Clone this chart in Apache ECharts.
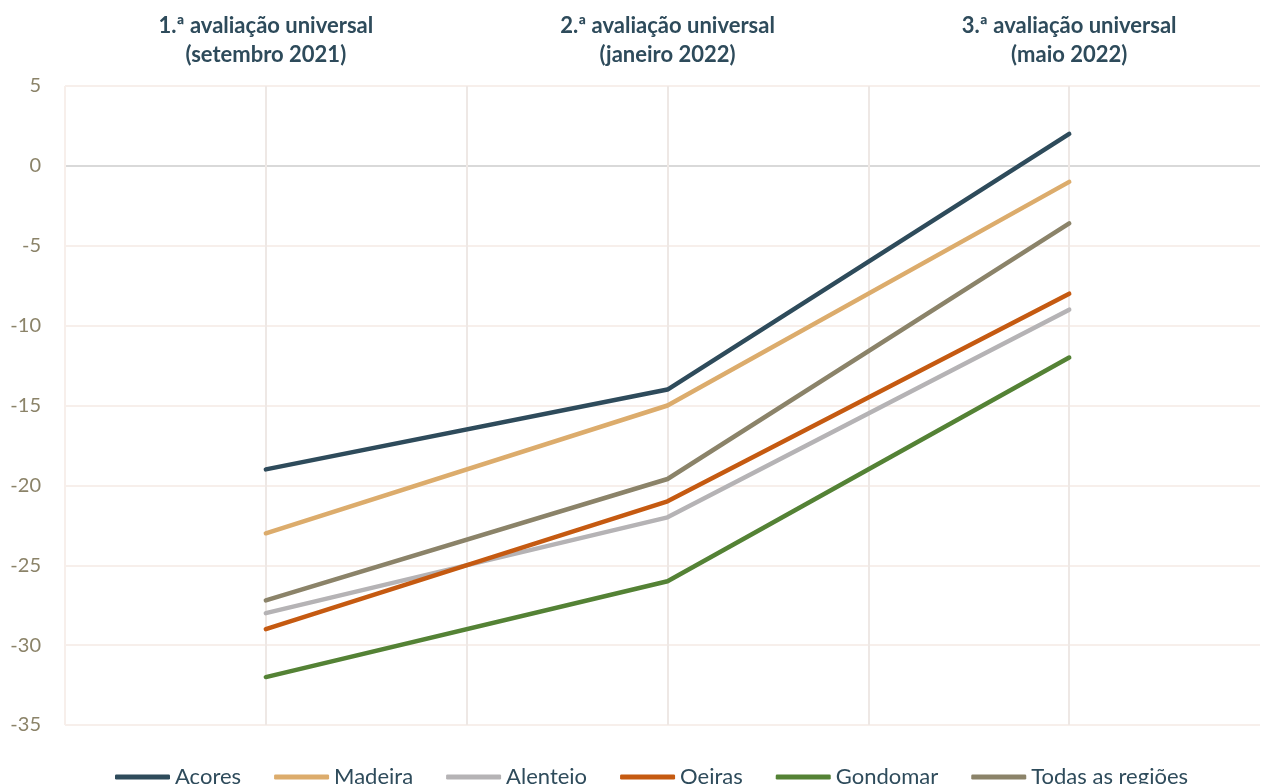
<!DOCTYPE html>
<html>
<head>
<meta charset="utf-8">
<script src="https://cdn.jsdelivr.net/npm/echarts@6/dist/echarts.min.js"></script>
<style>
  html, body { margin: 0; padding: 0; background: #ffffff; }
  #chart { width: 1263px; height: 784px; }
</style>
</head>
<body>
<div id="chart"></div>
<script>
// Assessment rounds, placed at x = 1, 3, 5 on the horizontal axis
const roundPositions = [1, 3, 5];
const roundLabels = [
  '1.ª avaliação universal\n(setembro 2021)',
  '2.ª avaliação universal\n(janeiro 2022)',
  '3.ª avaliação universal\n(maio 2022)'
];

// Regions
const regions = ['Açores', 'Madeira', 'Alentejo', 'Oeiras', 'Gondomar', 'Todas as regiões'];

// Values per region, one per assessment round
const acores   = [-19, -14, 2];
const madeira  = [-23, -15, -1];
const alentejo = [-28, -22, -9];
const oeiras   = [-29, -21, -8];
const gondomar = [-32, -26, -12];
const todas    = [-27.2, -19.6, -3.6];

// Y-axis ticks
const yMin = -35, yMax = 5, yStep = 5;

const seriesValues = [acores, madeira, alentejo, oeiras, gondomar, todas];
const colors = ['#2e4b5b', '#dcac6c', '#b5b3b5', '#c55a11', '#548235', '#8b8369'];

const fontFamily = 'Lato, "Open Sans", sans-serif';

// The plot is wider than the page; the visible part ends just before x = 6
const xMax = 5.95;

const chart = echarts.init(document.getElementById('chart'), null, { renderer: 'canvas' });

// Horizontal grid colours: the zero line is darker than the rest
const yLineColors = [];
for (let v = yMin; v <= yMax; v += yStep) {
  yLineColors.push(v === 0 ? '#d9d9d9' : '#f7efeb');
}
// Vertical grid colours: left frame edge fainter, clipped right edge hidden
const xLineColors = ['#f7efeb', '#eee8e5', '#eee8e5', '#eee8e5', '#eee8e5', '#eee8e5', 'rgba(0,0,0,0)'];

chart.setOption({
  animation: false,
  color: colors,
  grid: { left: 65, right: 0, top: 86, bottom: 59, containLabel: false },
  xAxis: {
    type: 'value',
    position: 'top',
    min: 0,
    max: xMax,
    interval: 1,
    axisLine: { show: false },
    axisTick: { show: false },
    splitLine: { show: true, lineStyle: { color: xLineColors, width: 2 } },
    axisLabel: {
      show: true,
      margin: 17,
      fontFamily: fontFamily,
      fontWeight: 'bold',
      fontSize: 22,
      lineHeight: 29,
      color: '#2e4b5b',
      align: 'center',
      formatter: function (v) {
        const i = roundPositions.indexOf(v);
        return i >= 0 ? roundLabels[i] : '';
      }
    }
  },
  yAxis: {
    type: 'value',
    min: yMin,
    max: yMax,
    interval: yStep,
    axisLine: { show: false },
    axisTick: { show: false },
    splitLine: { show: true, lineStyle: { color: yLineColors, width: 2 } },
    axisLabel: {
      margin: 24,
      fontFamily: fontFamily,
      fontSize: 20,
      color: '#8b8369'
    }
  },
  legend: {
    top: 766,
    left: 115,
    padding: 0,
    icon: 'roundRect',
    itemWidth: 55,
    itemHeight: 5,
    itemGap: 33,
    textStyle: { fontFamily: fontFamily, fontSize: 22, color: '#2e4b5b' },
    data: regions
  },
  series: regions.map(function (name, i) {
    return {
      name: name,
      type: 'line',
      symbol: 'none',
      lineStyle: { width: 4.5, color: colors[i], cap: 'round' },
      data: seriesValues[i].map(function (v, j) { return [roundPositions[j], v]; })
    };
  })
});
</script>
</body>
</html>
